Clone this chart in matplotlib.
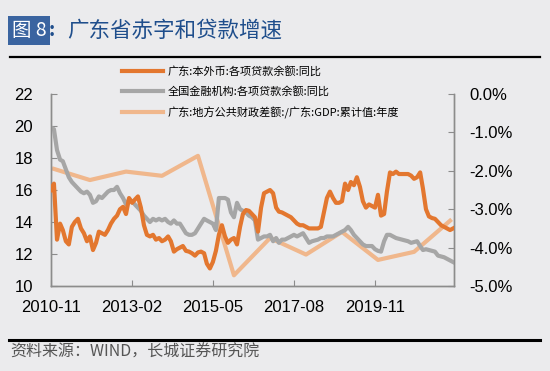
import numpy as np
import pandas as pd
import matplotlib
matplotlib.use('Agg')
from matplotlib import pyplot as plt
import matplotlib.dates as mdates
from matplotlib.ticker import FuncFormatter

plt.rcParams['font.family'] = ['Liberation Sans', 'Noto Sans CJK SC', 'DejaVu Sans']

# 月度数据 2010-11 ~ 2022-01
months = pd.date_range('2010-11-01', periods=135, freq='MS')

gd_loan = [
    16.0, 16.4, 12.9, 13.9, 13.5, 12.8, 12.6, 13.7, 14.0, 14.2,
    13.6, 13.3, 12.8, 13.1, 12.25, 12.7, 13.4, 13.3, 13.2, 13.5,
    13.9, 14.2, 14.4, 14.8, 14.95, 14.5, 15.5, 15.2, 15.4, 15.6,
    14.9, 13.8, 13.2, 13.1, 13.2, 12.9, 13.0, 12.8, 12.9, 13.1,
    12.8, 12.15, 12.3, 12.4, 12.5, 12.2, 12.15, 12.05, 11.9, 12.1,
    12.15, 12.05, 11.4, 11.1, 11.5, 12.2, 13.2, 13.8, 13.1, 12.7,
    12.9, 13.0, 12.6, 13.7, 14.5, 14.75, 14.7, 14.5, 14.3, 13.4,
    14.9, 15.8, 15.9, 16.0, 15.8, 14.9, 14.65, 14.6, 14.5, 14.4,
    14.3, 14.1, 13.9, 13.8, 13.8, 13.7, 13.6, 13.6, 13.6, 13.6,
    13.7, 14.6, 15.5, 15.9, 15.5, 15.2, 15.2, 15.3, 16.4, 16.0,
    16.5, 16.3, 16.8, 16.2, 15.3, 14.9, 15.1, 15.0, 14.9, 15.7,
    14.4, 14.5, 15.9, 17.1, 17.0, 17.15, 17.0, 17.0, 17.0, 17.0,
    16.9, 16.7, 16.8, 17.1, 16.1, 14.8, 14.35, 14.25, 14.2, 14.0,
    13.8, 13.7, 13.6, 13.5, 13.6,
]

cn_loan = [
    19.9, 19.8, 18.5, 17.9, 17.8, 17.3, 16.8, 16.5, 16.3, 16.1,
    15.9, 15.8, 15.9, 15.7, 15.2, 15.3, 15.6, 15.5, 15.7, 15.9,
    16.0, 16.0, 16.2, 15.8, 15.5, 15.1, 15.4, 15.3, 15.1, 14.9,
    14.7, 14.4, 14.2, 14.0, 14.2, 14.1, 14.2, 14.1, 14.2, 14.0,
    13.9, 14.1, 13.9, 13.9, 13.6, 13.3, 13.2, 13.2, 13.3, 13.6,
    13.9, 14.2, 14.1, 14.0, 13.9, 13.5, 15.5, 15.5, 15.5, 15.4,
    14.6, 14.3, 15.2, 14.8, 14.7, 14.6, 14.4, 14.3, 14.1, 12.9,
    13.0, 13.1, 13.1, 13.2, 12.8, 13.0, 12.7, 12.9, 12.9, 13.0,
    13.1, 13.2, 13.1, 13.2, 13.3, 13.0, 12.7, 12.8, 12.85, 12.9,
    13.0, 13.0, 13.1, 13.1, 13.1, 13.2, 13.3, 13.4, 13.5, 13.7,
    13.5, 13.2, 13.0, 12.8, 12.6, 12.5, 12.5, 12.5, 12.3, 12.2,
    12.15, 12.8, 13.2, 13.2, 13.1, 13.0, 12.95, 12.9, 12.85, 12.8,
    12.7, 12.75, 12.8, 12.5, 12.25, 12.3, 12.25, 12.2, 12.15, 11.9,
    11.85, 11.8, 11.7, 11.6, 11.5,
]

# 年度数据（右轴，%）
years = pd.date_range('2010-12-01', periods=12, freq='12MS')
gd_deficit = [-1.95, -2.24, -2.02, -2.13, -1.61, -4.72, -3.75, -4.18, -3.59, -4.32, -4.11, -3.30]

labels = ['广东:本外币:各项贷款余额:同比',
          '全国金融机构:各项贷款余额:同比',
          '广东:地方公共财政差额:/广东:GDP:累计值:年度']
c_orange, c_gray, c_peach = '#E3772F', '#A6A6A6', '#F0B78C'
bg = '#EBEBED'
spine_c = '#8C8C8C'

fig = plt.figure(figsize=(5.5, 3.71), dpi=100, facecolor=bg)
ax = fig.add_axes([0.0927, 0.229, 0.7336, 0.5176], facecolor=bg)
ax2 = ax.twinx()

l1, = ax.plot(months, gd_loan, color=c_orange, lw=3.0, zorder=3)
l2, = ax.plot(months, cn_loan, color=c_gray, lw=3.0, zorder=2)
l3, = ax2.plot(years, gd_deficit, color=c_peach, lw=3.0)
ax.set_zorder(ax2.get_zorder() + 1)
ax.patch.set_visible(False)

ax.set_ylim(10, 22)
ax.set_yticks(range(10, 23, 2))
ax2.set_ylim(-5, 0)
ax2.set_yticks(np.arange(-5, 0.1, 1))
ax2.yaxis.set_major_formatter(FuncFormatter(lambda v, p: '%.1f%%' % v))

ax.set_xlim(pd.Timestamp('2010-11-01'), pd.Timestamp('2022-01-15'))
xt = pd.date_range('2010-11-01', periods=5, freq='27MS')
ax.set_xticks(xt)
ax.xaxis.set_major_formatter(mdates.DateFormatter('%Y-%m'))

for a in (ax, ax2):
    for s in a.spines.values():
        s.set_color(spine_c)
        s.set_linewidth(1.0)
    a.spines['top'].set_visible(False)
ax.tick_params(axis='y', direction='in', length=4, color=spine_c, labelsize=12, pad=13)
ax.tick_params(axis='x', direction='in', length=4, color=spine_c, labelsize=12, pad=10)
ax2.tick_params(axis='y', direction='in', length=4, color=spine_c, labelsize=12, pad=11)

leg = ax.legend([l1, l2, l3], labels, loc='upper left',
                bbox_to_anchor=(0.222, 0.822), bbox_transform=fig.transFigure,
                frameon=False, borderpad=0, borderaxespad=0,
                handlelength=3.7, handletextpad=0.4, labelspacing=0.85,
                prop={'family': ['Noto Sans CJK SC'], 'size': 8})

# 标题、分隔线、资料来源
fig.text(0.021, 0.918, '图 8', color='white', fontsize=14,
         family=['Noto Sans CJK SC'], va='center',
         bbox=dict(boxstyle='square,pad=0.2', fc='#3A64A0', ec='none'))
fig.text(0.089, 0.918, ':', color='#1F4E8C', fontsize=14, fontweight='bold',
         family=['Noto Sans CJK SC'], va='center')
fig.text(0.122, 0.918, '广东省赤字和贷款增速', color='#1F4E8C', fontsize=15.5,
         family=['Noto Sans CJK SC'], va='center')
fig.add_artist(plt.Line2D([0.018, 0.982], [0.846, 0.846], color='black', lw=1.6))
fig.add_artist(plt.Line2D([0.016, 0.982], [0.084, 0.084], color='black', lw=2.2))
fig.text(0.018, 0.051, '资料来源：WIND，长城证券研究院', color='#555555', fontsize=11.5,
         style='italic', family=['Noto Sans CJK SC'], va='center')

fig.savefig('out.png', dpi=100, facecolor=bg)
